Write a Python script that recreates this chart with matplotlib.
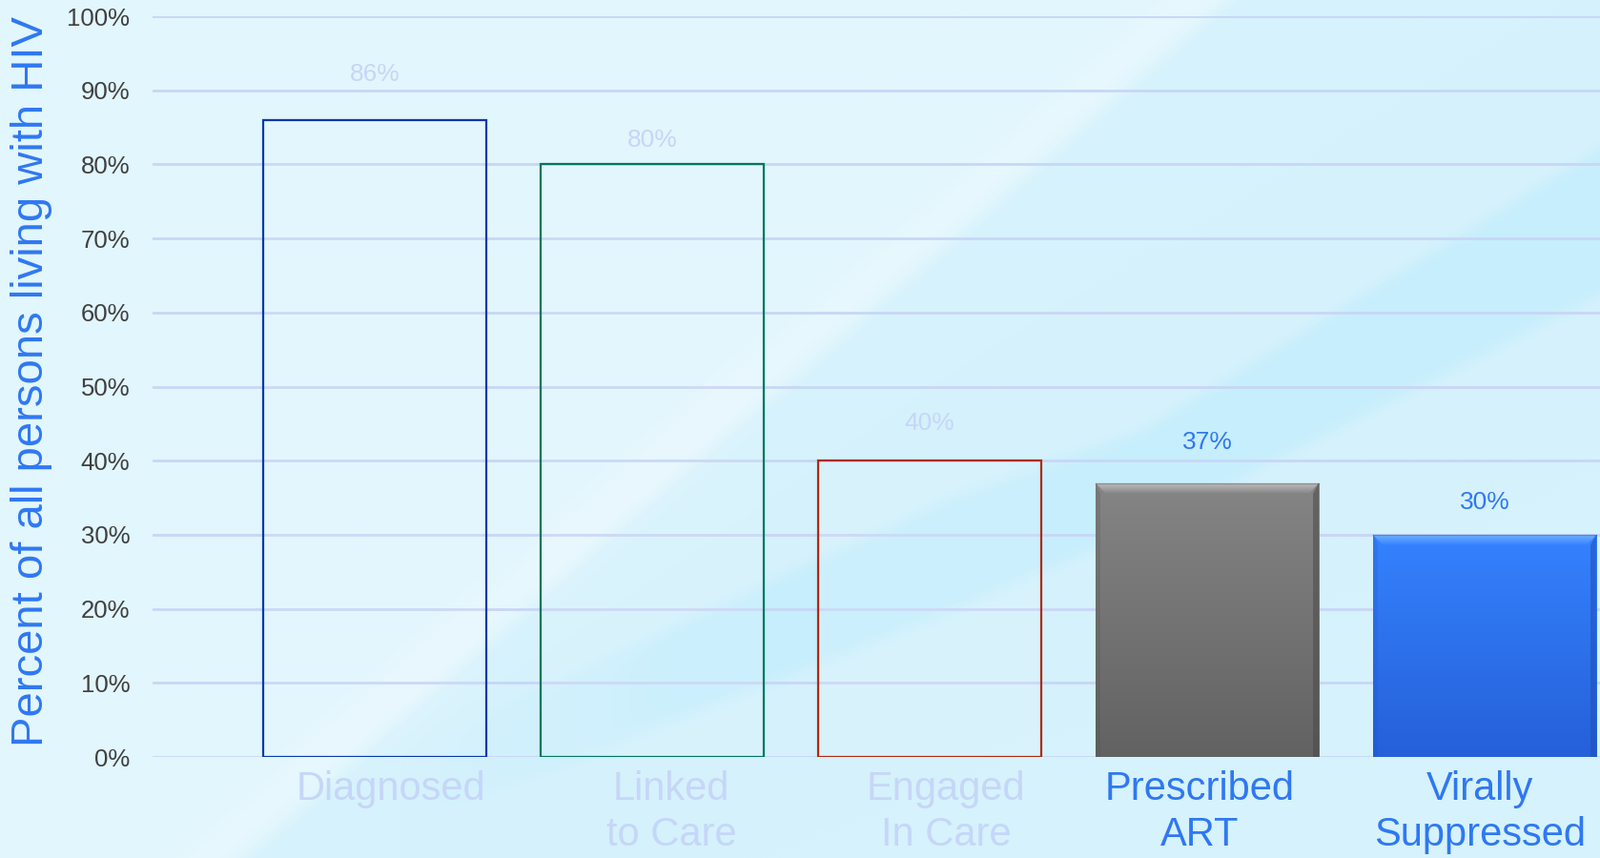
import numpy as np
import matplotlib
matplotlib.use("Agg")
import matplotlib.pyplot as plt
from matplotlib.colors import LinearSegmentedColormap, to_rgb
from matplotlib.patches import Polygon

categories = ["Diagnosed", "Linked\nto Care", "Engaged\nIn Care", "Prescribed\nART", "Virally\nSuppressed"]
values = [86, 80, 40, 37, 30]
value_labels = ["86%", "80%", "40%", "37%", "30%"]
yticks = [0, 10, 20, 30, 40, 50, 60, 70, 80, 90, 100]
ytick_labels = ["0%", "10%", "20%", "30%", "40%", "50%", "60%", "70%", "80%", "90%", "100%"]

edge_colors = ["#0A38A8", "#00785A", "#B02A10", "#6E6E6E", "#2A6BE8"]
label_colors = ["#C6D6F8", "#C6D6F8", "#C6D6F8", "#2F78F2", "#2F78F2"]
value_colors = ["#C6D6F8", "#C6D6F8", "#C6D6F8", "#2F78F2", "#2F78F2"]
label_shift_px = [17, 20, 17, -8, -5]
value_offset_px = [36, 13, 27, 31, 22]

plt.rcParams['font.family'] = ['Liberation Sans', 'DejaVu Sans']

W, H = 1678, 900
fig = plt.figure(figsize=(W / 100, H / 100), dpi=100)

# background: theme-like diagonal bands
bg = fig.add_axes([0, 0, 1, 1], zorder=-10)
yy, xx = np.mgrid[0:H, 0:W].astype(float)

def side(x1, y1, x2, y2):
    L = np.hypot(x2 - x1, y2 - y1)
    return ((x2 - x1) * (yy - y1) - (y2 - y1) * (xx - x1)) / L

def smooth(s, w):
    return 1 / (1 + np.exp(-s / w))

sA = side(1284, 0, 626, 574)        # >0 on light (upper-left) side
light = smooth(sA, 4)
bx_pts = [400, 565, 1000, 1200, 1678]
cy_pts = [840, 767, 580, 501, 232]
hw_pts = [40, 45, 60, 51, 77]
cy = np.interp(xx, bx_pts, cy_pts)
hw = np.interp(xx, bx_pts, hw_pts)
dv = np.abs(yy - cy)
fade = np.clip((xx - 420) / 300, 0, 1)
band = smooth(hw - dv, 5) * fade * (1 - light)
streak = np.exp(-((sA - 25) ** 2) / (2 * 18 ** 2)) * 0.6

c_mid = np.array(to_rgb("#D6F2FC"))
c_light = np.array(to_rgb("#E2F6FD"))
c_band = np.array(to_rgb("#C7EEFC"))
c_streak = np.array(to_rgb("#EAF9FE"))
img = c_mid[None, None, :] * np.ones((H, W, 1))
img = img * (1 - light[..., None]) + c_light * light[..., None]
img = img * (1 - band[..., None]) + c_band * band[..., None]
img = img * (1 - streak[..., None]) + c_streak * streak[..., None]
bg.imshow(img, aspect='auto', extent=[0, 1, 0, 1], origin='upper', interpolation='bilinear')
bg.axis('off')

ax = fig.add_axes([160 / W, 1 - 794 / H, 1 - 160 / W, (794 - 17) / H])
ax.patch.set_alpha(0)
x = np.arange(len(categories))
ax.set_xlim(-0.8, 4.415)
ax.set_ylim(0, 100)

for yv in yticks:
    ax.axhline(yv, color="#C8D6F6", lw=2, zorder=0)

bars = ax.bar(x, values, width=0.805, zorder=2)
px_x = 1 / 291.0   # data units per pixel (x)
px_y = 100 / 777.0  # data units per pixel (y)
for i, b in enumerate(bars):
    if i < 3:
        b.set_facecolor((1, 1, 1, 0.08))
        b.set_edgecolor(edge_colors[i])
        b.set_linewidth(1.6)
    else:
        b.set_facecolor("none")
        b.set_edgecolor("none")
        x0 = b.get_x()
        x1 = x0 + b.get_width()
        top = b.get_height()
        if i == 3:
            ctop, cbot, chi, cdark = "#858585", "#626262", "#BDBDBD", "#4A4A4A"
        else:
            ctop, cbot, chi, cdark = "#3582FF", "#2560D8", "#6FB0FF", "#1F4FB8"
        cmap = LinearSegmentedColormap.from_list("g%d" % i, [cbot, ctop])
        grad = np.linspace(0, 1, 256)[:, None]
        im = ax.imshow(grad, cmap=cmap, aspect='auto', origin='lower',
                       extent=[x0, x1, 0, top], zorder=2)
        im.set_clip_path(b)
        bx, by = 10 * px_x, 11 * px_y
        topcmap = LinearSegmentedColormap.from_list("t%d" % i, [ctop, chi])
        tp = Polygon([(x0, top), (x1, top), (x1 - bx, top - by), (x0 + bx, top - by)],
                     closed=True, facecolor="none", edgecolor="none", zorder=3)
        ax.add_patch(tp)
        im2 = ax.imshow(np.linspace(0, 1, 64)[:, None], cmap=topcmap, aspect='auto', origin='lower',
                        extent=[x0, x1, top - by, top], zorder=3)
        im2.set_clip_path(tp)
        ax.add_patch(Polygon([(x1, top), (x1, 0), (x1 - 6 * px_x, 0), (x1 - 6 * px_x, top - by)],
                             closed=True, facecolor=cdark, alpha=0.55, edgecolor="none", zorder=3))
        ax.add_patch(Polygon([(x0, top), (x0, 0), (x0 + 5 * px_x, 0), (x0 + 5 * px_x, top - by)],
                             closed=True, facecolor=cdark, alpha=0.2, edgecolor="none", zorder=3))
        ax.plot([x0, x1], [top, top], color=cdark, alpha=0.4, lw=1, zorder=4)

for i, (xi, v) in enumerate(zip(x, values)):
    ax.annotate(value_labels[i], (xi, v), xytext=(0, value_offset_px[i]), textcoords='offset pixels',
                ha='center', va='bottom', fontsize=19, color=value_colors[i])

ax.set_yticks(yticks)
ax.set_yticklabels(ytick_labels, fontsize=18.5, color="#404040")
ax.tick_params(axis='y', length=0, pad=17)
ax.set_xticks(x)
ax.set_xticklabels([])
ax.tick_params(axis='x', length=0)
for i, (xi, cat) in enumerate(zip(x, categories)):
    ax.annotate(cat, (xi, 0), xytext=(label_shift_px[i], -14), textcoords='offset pixels',
                ha='center', va='top', fontsize=30, linespacing=1.27, color=label_colors[i],
                annotation_clip=False)
for s in ax.spines.values():
    s.set_visible(False)

fig.text(33 / W, 1 - 400 / H, "Percent of all persons living with HIV", rotation=90,
         ha='center', va='center', fontsize=34, color="#2F78F2")

fig.savefig("out.png", dpi=100)
